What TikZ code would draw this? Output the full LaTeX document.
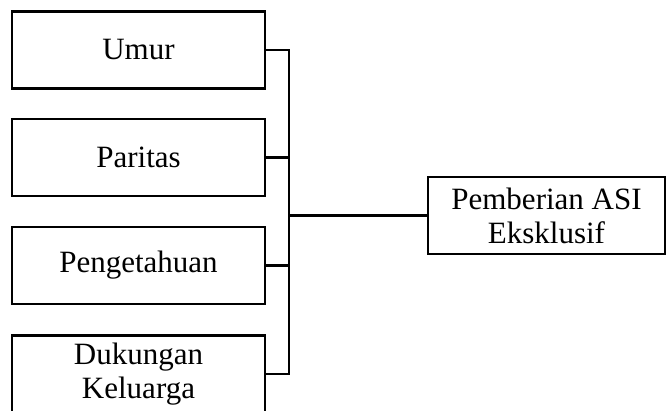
\documentclass[tikz,border=0pt]{standalone}
\usepackage{fontspec}
\setmainfont{Liberation Serif}
\begin{document}
\begin{tikzpicture}[x=1pt,y=-1pt,
  box/.style={draw, line width=2.4pt, inner sep=0pt, align=center,
    minimum width=253pt, minimum height=77pt,
    font=\fontsize{31}{34}\selectfont},
  link/.style={line width=2.4pt}]
\useasboundingbox (0,0) rectangle (667,410);
\clip (0,0) rectangle (667,410);
\node[box] (umur) at (138.5,50) {Umur};
\node[box] (paritas) at (138.5,157.5) {Paritas};
\node[box] (peng) at (138.5,265.5) {Pengetahuan};
\node[box] (duk) at (138.5,374) {Dukungan\\Keluarga};
\node[box, minimum width=237pt] (asi) at (546.5,215.5) {Pemberian ASI\\Eksklusif};
\coordinate (bus) at (289,215.5);
\draw[link] (umur.east) -| (bus);
\draw[link] (paritas.east) -| (bus);
\draw[link] (peng.east) -| (bus);
\draw[link] (duk.east) -| (bus);
\draw[link] (bus) -- (asi.west);
\end{tikzpicture}
\end{document}
